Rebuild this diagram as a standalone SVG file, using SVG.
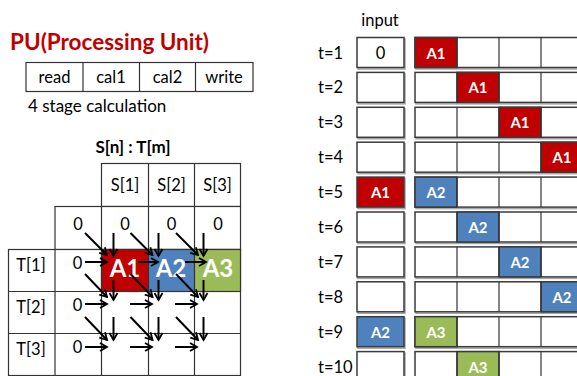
<svg xmlns="http://www.w3.org/2000/svg" width="577" height="376" viewBox="0 0 577 376">
  <style>
    text { font-family: Lato, "Open Sans", "Liberation Sans", sans-serif; fill: #000; }
    .grid { fill: #fff; stroke: #333; stroke-width: 1.2; }
    .line { stroke: #333; stroke-width: 1.2; fill: none; }
    .box { fill: #fff; stroke: #3a3a3a; stroke-width: 1.5; }
    .shadow { fill: none; stroke: #a6a6a6; stroke-width: 1.5; }
    .red { fill: #c00000; }
    .blue { fill: #4f81bd; }
    .green { fill: #9bbb59; }
    .lbl { font-size: 16.5px; }
    .mid { text-anchor: middle; }
    .big { font-size: 24px; font-weight: bold; fill: #fff; text-anchor: middle; }
    .tag { font-size: 15px; font-weight: bold; fill: #fff; text-anchor: middle; }
    .arr { stroke: #000; stroke-width: 2; fill: none; marker-end: url(#head); }
  </style>
  <defs>
    <marker id="head" viewBox="0 0 10 10" refX="8" refY="5" markerWidth="5" markerHeight="5" orient="auto" markerUnits="strokeWidth">
      <path d="M1,1 L8,5 L1,9" fill="none" stroke="#000" stroke-width="1.8"/>
    </marker>
  </defs>

  <!-- processing unit stages -->
  <g id="pu-title">
    <text x="10" y="49.5" font-size="22.5" font-weight="bold" style="fill:#c00000">PU(Processing Unit)</text>
  </g>
  <g id="pu-stages">
    <rect class="grid" x="26" y="62.5" width="227" height="29"/>
    <line class="line" x1="83" y1="62.5" x2="83" y2="91.5"/>
    <line class="line" x1="139.5" y1="62.5" x2="139.5" y2="91.5"/>
    <line class="line" x1="195.5" y1="62.5" x2="195.5" y2="91.5"/>
    <text class="lbl mid" x="54.5" y="83">read</text>
    <text class="lbl mid" x="111" y="83">cal1</text>
    <text class="lbl mid" x="167.5" y="83">cal2</text>
    <text class="lbl mid" x="224" y="83">write</text>
    <text x="28" y="111.5" font-size="17">4 stage calculation</text>
  </g>

  <!-- score matrix -->
  <g id="matrix">
    <text class="mid" x="133" y="153" font-size="17" font-weight="bold">S[n] : T[m]</text>
    <rect class="grid" x="101.5" y="163.5" width="139" height="43"/>
    <rect class="grid" x="55" y="206.5" width="185.5" height="43"/>
    <rect class="grid" x="8.5" y="249.5" width="232" height="126"/>
    <rect class="red" x="101.5" y="249.5" width="47" height="42"/>
    <rect class="blue" x="148.5" y="249.5" width="46" height="42"/>
    <rect class="green" x="194.5" y="249.5" width="46" height="42"/>
    <line class="line" x1="148.5" y1="163.5" x2="148.5" y2="375.5"/>
    <line class="line" x1="194.5" y1="163.5" x2="194.5" y2="375.5"/>
    <line class="line" x1="101.5" y1="206.5" x2="101.5" y2="375.5"/>
    <line class="line" x1="55" y1="249.5" x2="55" y2="375.5"/>
    <line class="line" x1="8.5" y1="291.5" x2="240.5" y2="291.5"/>
    <line class="line" x1="8.5" y1="333.5" x2="240.5" y2="333.5"/>
    <rect x="101.5" y="249.5" width="139" height="42" fill="none" stroke="#333" stroke-width="1.2"/>
    <text class="lbl mid" x="125" y="191">S[1]</text>
    <text class="lbl mid" x="171.5" y="191">S[2]</text>
    <text class="lbl mid" x="217.5" y="191">S[3]</text>
    <text class="lbl mid" x="78" y="230">0</text>
    <text class="lbl mid" x="125" y="230">0</text>
    <text class="lbl mid" x="171.5" y="230">0</text>
    <text class="lbl mid" x="218" y="230">0</text>
    <text class="lbl mid" x="31" y="271">T[1]</text>
    <text class="lbl mid" x="31" y="313">T[2]</text>
    <text class="lbl mid" x="31" y="355">T[3]</text>
    <text class="lbl mid" x="77.5" y="269">0</text>
    <text class="lbl mid" x="77.5" y="311">0</text>
    <text class="lbl mid" x="77.5" y="353">0</text>
    <text class="big" x="125" y="277">A1</text>
    <text class="big" x="171" y="277">A2</text>
    <text class="big" x="218" y="277">A3</text>
  </g>

  <!-- dependency arrows between matrix cells -->
  <g id="connectors">
    <line class="arr" x1="85" y1="233" x2="107" y2="255"/>
    <line class="arr" x1="113.5" y1="233" x2="113.5" y2="256"/>
    <line class="arr" x1="130.5" y1="233" x2="152.5" y2="255"/>
    <line class="arr" x1="158.5" y1="233" x2="158.5" y2="256"/>
    <line class="arr" x1="176" y1="233" x2="198" y2="255"/>
    <line class="arr" x1="203.5" y1="233" x2="203.5" y2="256"/>

    <line class="arr" x1="85" y1="262" x2="107" y2="262"/>
    <line class="arr" x1="138" y1="262" x2="158" y2="262"/>
    <line class="arr" x1="185" y1="262" x2="206" y2="262"/>

    <line class="arr" x1="85" y1="274" x2="107" y2="297"/>
    <line class="arr" x1="113.5" y1="280" x2="113.5" y2="300"/>
    <line class="arr" x1="130.5" y1="274" x2="152.5" y2="297"/>
    <line class="arr" x1="158.5" y1="280" x2="158.5" y2="300"/>
    <line class="arr" x1="176" y1="274" x2="198" y2="297"/>
    <line class="arr" x1="203.5" y1="280" x2="203.5" y2="300"/>

    <line class="arr" x1="85" y1="304" x2="107" y2="304"/>
    <line class="arr" x1="130" y1="304" x2="152" y2="304"/>
    <line class="arr" x1="175" y1="304" x2="197" y2="304"/>

    <line class="arr" x1="85" y1="317" x2="107" y2="340"/>
    <line class="arr" x1="113.5" y1="317" x2="113.5" y2="340"/>
    <line class="arr" x1="130.5" y1="317" x2="152.5" y2="340"/>
    <line class="arr" x1="158.5" y1="317" x2="158.5" y2="340"/>
    <line class="arr" x1="176" y1="317" x2="198" y2="340"/>
    <line class="arr" x1="203.5" y1="317" x2="203.5" y2="340"/>

    <line class="arr" x1="85" y1="347" x2="107" y2="347"/>
    <line class="arr" x1="130" y1="347" x2="152" y2="347"/>
    <line class="arr" x1="175" y1="347" x2="197" y2="347"/>
  </g>

  <!-- pipeline timeline -->
  <g id="timeline">
    <text class="lbl mid" x="380" y="26">input</text>

    <g id="t1" transform="translate(0,37.5)">
      <text class="lbl" x="318" y="21">t=1</text>
      <rect class="shadow" x="358" y="1.5" width="47" height="30"/>
      <rect class="box" x="357" y="0" width="47" height="30"/>
      <rect class="shadow" x="416" y="1.5" width="168" height="30"/>
      <rect class="box" x="415" y="0" width="168" height="30"/>
      <rect class="red" x="415" y="0" width="42" height="30" stroke="#3a3a3a" stroke-width="1.5"/>
      <line class="line" x1="457" y1="0" x2="457" y2="30"/><line class="line" x1="499" y1="0" x2="499" y2="30"/><line class="line" x1="541" y1="0" x2="541" y2="30"/>
      <text class="lbl mid" x="380.5" y="21">0</text>
      <text class="tag" x="436" y="21">A1</text>
    </g>
    <g id="t2" transform="translate(0,72.4)">
      <text class="lbl" x="318" y="21">t=2</text>
      <rect class="shadow" x="358" y="1.5" width="47" height="30"/>
      <rect class="box" x="357" y="0" width="47" height="30"/>
      <rect class="shadow" x="416" y="1.5" width="168" height="30"/>
      <rect class="box" x="415" y="0" width="168" height="30"/>
      <rect class="red" x="457" y="0" width="42" height="30" stroke="#3a3a3a" stroke-width="1.5"/>
      <line class="line" x1="457" y1="0" x2="457" y2="30"/><line class="line" x1="499" y1="0" x2="499" y2="30"/><line class="line" x1="541" y1="0" x2="541" y2="30"/>
      <text class="tag" x="478" y="21">A1</text>
    </g>
    <g id="t3" transform="translate(0,107.3)">
      <text class="lbl" x="318" y="21">t=3</text>
      <rect class="shadow" x="358" y="1.5" width="47" height="30"/>
      <rect class="box" x="357" y="0" width="47" height="30"/>
      <rect class="shadow" x="416" y="1.5" width="168" height="30"/>
      <rect class="box" x="415" y="0" width="168" height="30"/>
      <rect class="red" x="499" y="0" width="42" height="30" stroke="#3a3a3a" stroke-width="1.5"/>
      <line class="line" x1="457" y1="0" x2="457" y2="30"/><line class="line" x1="499" y1="0" x2="499" y2="30"/><line class="line" x1="541" y1="0" x2="541" y2="30"/>
      <text class="tag" x="520" y="21">A1</text>
    </g>
    <g id="t4" transform="translate(0,142.2)">
      <text class="lbl" x="318" y="21">t=4</text>
      <rect class="shadow" x="358" y="1.5" width="47" height="30"/>
      <rect class="box" x="357" y="0" width="47" height="30"/>
      <rect class="shadow" x="416" y="1.5" width="168" height="30"/>
      <rect class="box" x="415" y="0" width="168" height="30"/>
      <rect class="red" x="541" y="0" width="42" height="30" stroke="#3a3a3a" stroke-width="1.5"/>
      <line class="line" x1="457" y1="0" x2="457" y2="30"/><line class="line" x1="499" y1="0" x2="499" y2="30"/><line class="line" x1="541" y1="0" x2="541" y2="30"/>
      <text class="tag" x="562" y="21">A1</text>
    </g>
    <g id="t5" transform="translate(0,177.1)">
      <text class="lbl" x="318" y="21">t=5</text>
      <rect class="shadow" x="358" y="1.5" width="47" height="30"/>
      <rect class="red" x="357" y="0" width="47" height="30" stroke="#3a3a3a" stroke-width="1.5"/>
      <rect class="shadow" x="416" y="1.5" width="168" height="30"/>
      <rect class="box" x="415" y="0" width="168" height="30"/>
      <rect class="blue" x="415" y="0" width="42" height="30" stroke="#3a3a3a" stroke-width="1.5"/>
      <line class="line" x1="457" y1="0" x2="457" y2="30"/><line class="line" x1="499" y1="0" x2="499" y2="30"/><line class="line" x1="541" y1="0" x2="541" y2="30"/>
      <text class="tag" x="380.5" y="21">A1</text>
      <text class="tag" x="436" y="21">A2</text>
    </g>
    <g id="t6" transform="translate(0,212)">
      <text class="lbl" x="318" y="21">t=6</text>
      <rect class="shadow" x="358" y="1.5" width="47" height="30"/>
      <rect class="box" x="357" y="0" width="47" height="30"/>
      <rect class="shadow" x="416" y="1.5" width="168" height="30"/>
      <rect class="box" x="415" y="0" width="168" height="30"/>
      <rect class="blue" x="457" y="0" width="42" height="30" stroke="#3a3a3a" stroke-width="1.5"/>
      <line class="line" x1="457" y1="0" x2="457" y2="30"/><line class="line" x1="499" y1="0" x2="499" y2="30"/><line class="line" x1="541" y1="0" x2="541" y2="30"/>
      <text class="tag" x="478" y="21">A2</text>
    </g>
    <g id="t7" transform="translate(0,246.9)">
      <text class="lbl" x="318" y="21">t=7</text>
      <rect class="shadow" x="358" y="1.5" width="47" height="30"/>
      <rect class="box" x="357" y="0" width="47" height="30"/>
      <rect class="shadow" x="416" y="1.5" width="168" height="30"/>
      <rect class="box" x="415" y="0" width="168" height="30"/>
      <rect class="blue" x="499" y="0" width="42" height="30" stroke="#3a3a3a" stroke-width="1.5"/>
      <line class="line" x1="457" y1="0" x2="457" y2="30"/><line class="line" x1="499" y1="0" x2="499" y2="30"/><line class="line" x1="541" y1="0" x2="541" y2="30"/>
      <text class="tag" x="520" y="21">A2</text>
    </g>
    <g id="t8" transform="translate(0,281.8)">
      <text class="lbl" x="318" y="21">t=8</text>
      <rect class="shadow" x="358" y="1.5" width="47" height="30"/>
      <rect class="box" x="357" y="0" width="47" height="30"/>
      <rect class="shadow" x="416" y="1.5" width="168" height="30"/>
      <rect class="box" x="415" y="0" width="168" height="30"/>
      <rect class="blue" x="541" y="0" width="42" height="30" stroke="#3a3a3a" stroke-width="1.5"/>
      <line class="line" x1="457" y1="0" x2="457" y2="30"/><line class="line" x1="499" y1="0" x2="499" y2="30"/><line class="line" x1="541" y1="0" x2="541" y2="30"/>
      <text class="tag" x="562" y="21">A2</text>
    </g>
    <g id="t9" transform="translate(0,316.7)">
      <text class="lbl" x="318" y="21">t=9</text>
      <rect class="shadow" x="358" y="1.5" width="47" height="30"/>
      <rect class="blue" x="357" y="0" width="47" height="30" stroke="#3a3a3a" stroke-width="1.5"/>
      <rect class="shadow" x="416" y="1.5" width="168" height="30"/>
      <rect class="box" x="415" y="0" width="168" height="30"/>
      <rect class="green" x="415" y="0" width="42" height="30" stroke="#3a3a3a" stroke-width="1.5"/>
      <line class="line" x1="457" y1="0" x2="457" y2="30"/><line class="line" x1="499" y1="0" x2="499" y2="30"/><line class="line" x1="541" y1="0" x2="541" y2="30"/>
      <text class="tag" x="380.5" y="21">A2</text>
      <text class="tag" x="436" y="21">A3</text>
    </g>
    <g id="t10" transform="translate(0,351.6)">
      <text class="lbl" x="318" y="21">t=10</text>
      <rect class="shadow" x="358" y="1.5" width="47" height="30"/>
      <rect class="box" x="357" y="0" width="47" height="30"/>
      <rect class="shadow" x="416" y="1.5" width="168" height="30"/>
      <rect class="box" x="415" y="0" width="168" height="30"/>
      <rect class="green" x="457" y="0" width="42" height="30" stroke="#3a3a3a" stroke-width="1.5"/>
      <line class="line" x1="457" y1="0" x2="457" y2="30"/><line class="line" x1="499" y1="0" x2="499" y2="30"/><line class="line" x1="541" y1="0" x2="541" y2="30"/>
      <text class="tag" x="478" y="21">A3</text>
    </g>
  </g>
</svg>
